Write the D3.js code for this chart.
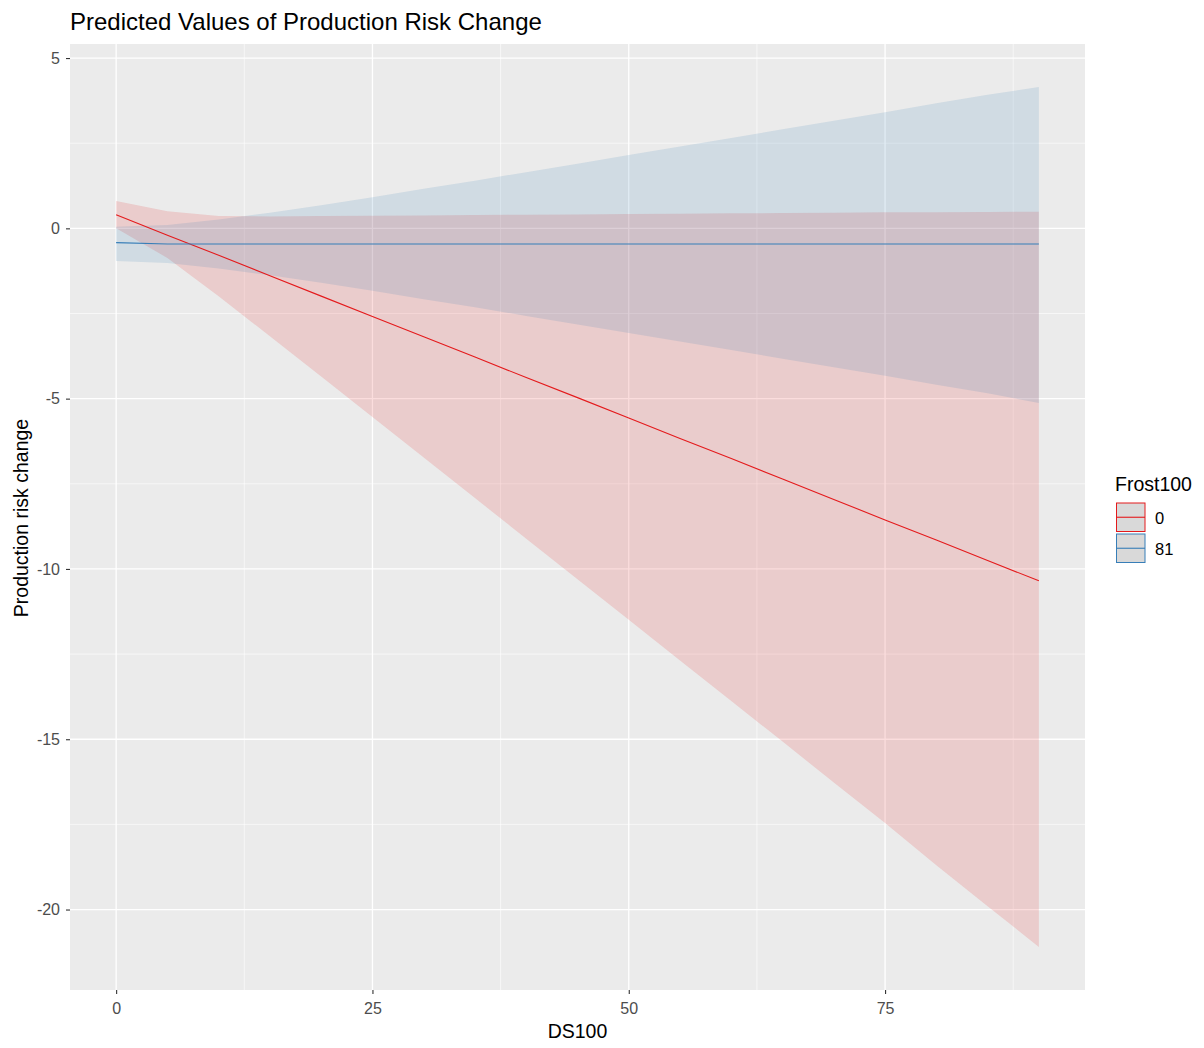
<!DOCTYPE html>
<html>
<head>
<meta charset="utf-8">
<script src="https://cdn.jsdelivr.net/npm/d3@7"></script>
<style>
  body { margin: 0; background: #fff; }
  svg { display: block; font-family: "Liberation Sans", Arial, sans-serif; }
</style>
</head>
<body>
<svg id="chart" width="1204" height="1048"></svg>
<script>
// DS100 values where the predictions are evaluated
const ds100 = [0, 5, 10, 15, 20, 25, 30, 35, 40, 45, 50, 55, 60, 65, 70, 75, 80, 85, 90];

// Frost100 = 0
const pred0  = [0.40, -0.20, -0.79, -1.39, -1.99, -2.59, -3.18, -3.78, -4.38, -4.97, -5.57, -6.17, -6.76, -7.36, -7.96, -8.56, -9.15, -9.75, -10.35];
const upper0 = [0.80, 0.50, 0.36, 0.35, 0.36, 0.37, 0.38, 0.39, 0.40, 0.41, 0.42, 0.43, 0.44, 0.45, 0.46, 0.47, 0.47, 0.48, 0.49];
const lower0 = [0.00, -0.87, -1.99, -3.17, -4.35, -5.54, -6.73, -7.92, -9.11, -10.30, -11.49, -12.69, -13.88, -15.07, -16.27, -17.46, -18.70, -19.90, -21.10];

// Frost100 = 81
const pred81  = [-0.42, -0.46, -0.46, -0.46, -0.46, -0.46, -0.46, -0.46, -0.46, -0.46, -0.46, -0.46, -0.46, -0.46, -0.46, -0.46, -0.46, -0.46, -0.46];
const upper81 = [0.05, 0.10, 0.26, 0.46, 0.68, 0.91, 1.16, 1.40, 1.65, 1.90, 2.15, 2.40, 2.65, 2.91, 3.16, 3.41, 3.67, 3.92, 4.15];
const lower81 = [-0.96, -1.02, -1.18, -1.38, -1.60, -1.83, -2.08, -2.32, -2.57, -2.82, -3.07, -3.32, -3.57, -3.83, -4.08, -4.33, -4.59, -4.84, -5.13];

const groups = ["0", "81"];
const xTicks = [0, 25, 50, 75];
const yTicks = [5, 0, -5, -10, -15, -20];

const colors = { "0": "#E41A1C", "81": "#377EB8" };

const series = [
  { key: "0",  pred: pred0,  lo: lower0,  hi: upper0 },
  { key: "81", pred: pred81, lo: lower81, hi: upper81 }
];

const svg = d3.select("#chart");
const panel = { left: 70, top: 44, right: 1085, bottom: 990 };

// 5% expansion on both axes, like ggplot2's default
const xExt = d3.extent(ds100);
const xPad = (xExt[1] - xExt[0]) * 0.05;
const yMin = d3.min([...lower0, ...lower81]);
const yMax = d3.max([...upper0, ...upper81]);
const yPad = (yMax - yMin) * 0.05;

const x = d3.scaleLinear().domain([xExt[0] - xPad, xExt[1] + xPad]).range([panel.left, panel.right]);
const y = d3.scaleLinear().domain([yMin - yPad, yMax + yPad]).range([panel.bottom, panel.top]);

// panel background
svg.append("rect")
  .attr("x", panel.left).attr("y", panel.top)
  .attr("width", panel.right - panel.left).attr("height", panel.bottom - panel.top)
  .attr("fill", "#EBEBEB");

// minor grid
const xMinor = [12.5, 37.5, 62.5, 87.5];
const yMinor = [2.5, -2.5, -7.5, -12.5, -17.5];
const grid = svg.append("g");
grid.selectAll(".xmin").data(xMinor).join("line")
  .attr("x1", d => x(d)).attr("x2", d => x(d))
  .attr("y1", panel.top).attr("y2", panel.bottom)
  .attr("stroke", "#fff").attr("stroke-width", 0.6);
grid.selectAll(".ymin").data(yMinor).join("line")
  .attr("y1", d => y(d)).attr("y2", d => y(d))
  .attr("x1", panel.left).attr("x2", panel.right)
  .attr("stroke", "#fff").attr("stroke-width", 0.6);
// major grid
grid.selectAll(".xmaj").data(xTicks).join("line")
  .attr("x1", d => x(d)).attr("x2", d => x(d))
  .attr("y1", panel.top).attr("y2", panel.bottom)
  .attr("stroke", "#fff").attr("stroke-width", 1.3);
grid.selectAll(".ymaj").data(yTicks).join("line")
  .attr("y1", d => y(d)).attr("y2", d => y(d))
  .attr("x1", panel.left).attr("x2", panel.right)
  .attr("stroke", "#fff").attr("stroke-width", 1.3);

// confidence ribbons
const area = d3.area()
  .x((d, i) => x(ds100[i]))
  .y0(d => y(d[0]))
  .y1(d => y(d[1]));

series.forEach(s => {
  const pts = ds100.map((_, i) => [s.lo[i], s.hi[i]]);
  svg.append("path")
    .attr("d", area(pts))
    .attr("fill", colors[s.key])
    .attr("fill-opacity", 0.15);
});

// predicted lines
const line = d3.line().x((d, i) => x(ds100[i])).y(d => y(d));
series.forEach(s => {
  svg.append("path")
    .attr("d", line(s.pred))
    .attr("fill", "none")
    .attr("stroke", colors[s.key])
    .attr("stroke-width", 1.1);
});

// axes
const xAxis = d3.axisBottom(x).tickValues(xTicks).tickSize(4).tickPadding(9).tickFormat(d3.format("d"));
const yAxis = d3.axisLeft(y).tickValues(yTicks).tickSize(4).tickPadding(6).tickFormat(d => d < 0 ? "-" + Math.abs(d) : d);

const gx = svg.append("g").attr("transform", `translate(0,${panel.bottom})`).call(xAxis);
const gy = svg.append("g").attr("transform", `translate(${panel.left},0)`).call(yAxis);
[gx, gy].forEach(g => {
  g.select(".domain").remove();
  g.selectAll(".tick line").attr("stroke", "#333").attr("stroke-width", 1.1);
  g.selectAll(".tick text").attr("fill", "#4D4D4D").style("font-size", "16px")
    .style("font-family", "'Liberation Sans', Arial, sans-serif");
});

// titles
svg.append("text")
  .attr("x", panel.left).attr("y", 30)
  .attr("fill", "#000").style("font-size", "24px")
  .text("Predicted Values of Production Risk Change");

svg.append("text")
  .attr("x", (panel.left + panel.right) / 2).attr("y", 1038)
  .attr("text-anchor", "middle").attr("fill", "#000").style("font-size", "19.5px")
  .text("DS100");

svg.append("text")
  .attr("transform", `translate(28,${(panel.top + panel.bottom) / 2 + 1}) rotate(-90)`)
  .attr("text-anchor", "middle").attr("fill", "#000").style("font-size", "19.5px")
  .text("Production risk change");

// legend
const leg = svg.append("g").attr("transform", "translate(1115,0)");
leg.append("text").attr("x", 0).attr("y", 491)
  .style("font-size", "19.5px").attr("fill", "#000").text("Frost100");

groups.forEach((g, i) => {
  const top = 503 + i * 31;
  const row = leg.append("g").attr("transform", `translate(1.5,${top})`);
  row.append("rect").attr("x", 0).attr("y", 0).attr("width", 28.5).attr("height", 28.5)
    .attr("fill", "#D9D9D9").attr("stroke", colors[g]).attr("stroke-width", 1);
  row.append("line").attr("x1", 0).attr("x2", 28.5).attr("y1", 14.25).attr("y2", 14.25)
    .attr("stroke", colors[g]).attr("stroke-width", 1.1);
  row.append("text").attr("x", 38.5).attr("y", 15).attr("dy", "0.35em")
    .style("font-size", "16.5px").attr("fill", "#000").text(g);
});
</script>
</body>
</html>
